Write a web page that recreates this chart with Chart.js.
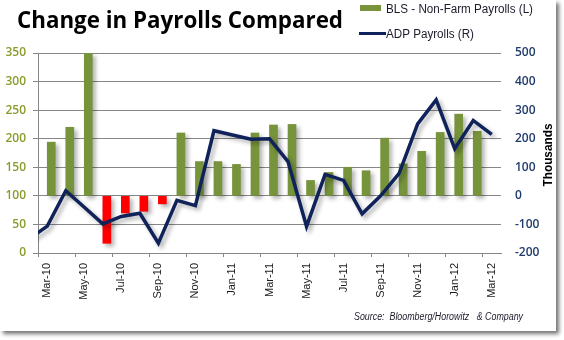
<!DOCTYPE html>
<html>
<head>
<meta charset="utf-8">
<script src="https://cdn.jsdelivr.net/npm/chart.js@4/dist/chart.umd.min.js"></script>
<style>
  body { margin: 0; background: #fff; }
  .frame { position: absolute; left: 0; top: 0; width: 556px; height: 331px; background: #fff; box-shadow: 3px 3px 4px rgba(0, 0, 0, 0.55); }
</style>
</head>
<body>
<div class="frame"><canvas id="chart" width="556" height="331"></canvas></div>
<script>
// data
const months = ['Mar-10', 'Apr-10', 'May-10', 'Jun-10', 'Jul-10', 'Aug-10', 'Sep-10', 'Oct-10', 'Nov-10', 'Dec-10',
  'Jan-11', 'Feb-11', 'Mar-11', 'Apr-11', 'May-11', 'Jun-11', 'Jul-11', 'Aug-11', 'Sep-11', 'Oct-11', 'Nov-11', 'Dec-11',
  'Jan-12', 'Feb-12', 'Mar-12']
const blsValues = [194, 220, 350, 17, 70, 73, 86, 210, 160, 160, 155, 210, 224, 225, 127, 141, 150, 144, 201, 156, 178, 211, 243, 213, null]
const adpValues = [-106, 18, -40, -98, -72, -61, -166, -16, -34, 228, 213, 198, 200, 120, -107, 75, 54, -63, 0, 79, 252, 336, 165, 264, 215]
const adpFeb10 = -151 // month before the first label, only its tail shows at the left edge
const blsBase = 100
const leftTicks = { min: 0, max: 350, step: 50 }
const rightTicks = { min: -200, max: 500, step: 100 }

const titleText = 'Change in Payrolls Compared'
const blsLabel = 'BLS - Non-Farm Payrolls (L)'
const adpLabel = 'ADP Payrolls (R)'
const rightTitle = 'Thousands'
const sourceText = 'Source:  Bloomberg/Horowitz   & Company'

const green = '#77933c'
const red = '#ff0000'
const navy = '#0f2259'
const gridGrey = '#868686'

const adpPoints = [{ x: -1, y: adpFeb10 }].concat(adpValues.map((v, i) => ({ x: i, y: v })))

// excel style drop shadow under bars and line
const shadow = {
  id: 'shadow',
  beforeDatasetsDraw(c) {
    c.ctx.save()
    c.ctx.shadowColor = 'rgba(0,0,0,0.3)'
    c.ctx.shadowBlur = 4
    c.ctx.shadowOffsetX = 3
    c.ctx.shadowOffsetY = 3
  },
  afterDatasetsDraw(c) {
    c.ctx.restore()
  }
}

// title, legend, axis title and source
const texts = {
  id: 'texts',
  afterDraw(c) {
    const ctx = c.ctx
    ctx.save()
    ctx.textBaseline = 'alphabetic'
    ctx.textAlign = 'left'

    ctx.fillStyle = '#000'
    ctx.font = 'bold 24px "Open Sans"'
    ctx.fillText(titleText, 17, 28, 326)

    ctx.fillStyle = green
    ctx.fillRect(360, 5, 21, 6)
    ctx.strokeStyle = navy
    ctx.lineWidth = 3
    ctx.beginPath()
    ctx.moveTo(359, 33.5)
    ctx.lineTo(386, 33.5)
    ctx.stroke()

    ctx.fillStyle = '#1b1b2b'
    ctx.font = '12px "Liberation Sans"'
    ctx.fillText(blsLabel, 386, 13, 147)
    ctx.fillText(adpLabel, 386, 38, 88)

    ctx.font = 'italic 10px "Liberation Sans"'
    ctx.fillText(sourceText, 354, 320, 169)

    ctx.fillStyle = '#000'
    ctx.font = 'bold 13px "Liberation Sans"'
    ctx.translate(552, 155)
    ctx.rotate(-Math.PI / 2)
    ctx.textAlign = 'center'
    ctx.fillText(rightTitle, 0, 0, 63)
    ctx.restore()
  }
}

new Chart(document.querySelector('#chart'), {
  data: {
    labels: months,
    datasets: [
      {
        type: 'line',
        label: adpLabel,
        data: adpPoints,
        xAxisID: 'x2',
        yAxisID: 'y2',
        borderColor: navy,
        borderWidth: 3.5,
        pointRadius: 0,
        tension: 0,
        order: 0
      },
      {
        type: 'bar',
        label: blsLabel,
        data: blsValues,
        base: blsBase,
        xAxisID: 'x',
        yAxisID: 'y',
        backgroundColor: ctx => (ctx.raw < blsBase ? red : green),
        barThickness: 8,
        order: 1
      }
    ]
  },
  options: {
    responsive: false,
    animation: false,
    layout: { padding: { top: 53, left: 0, right: 0, bottom: 0 } },
    plugins: { legend: { display: false }, tooltip: { enabled: false } },
    scales: {
      x: {
        type: 'category',
        offset: true,
        grid: {
          offset: true,
          drawOnChartArea: false,
          tickLength: 4,
          color: ctx => (ctx.index % 2 === 0 ? gridGrey : 'rgba(0,0,0,0)')
        },
        border: { color: gridGrey },
        ticks: {
          autoSkip: false,
          minRotation: 90,
          maxRotation: 90,
          padding: 6,
          color: '#1a1a1a',
          font: { family: '"Liberation Sans"', size: 11 },
          callback: (v, i) => (i % 2 === 0 ? months[i] : '')
        },
        afterFit: s => { s.height = 78 }
      },
      x2: {
        type: 'linear',
        display: false,
        min: -0.5,
        max: months.length - 0.5
      },
      y: {
        position: 'left',
        min: leftTicks.min,
        max: leftTicks.max,
        ticks: {
          stepSize: leftTicks.step,
          padding: 7,
          color: '#8c9a2c',
          font: { family: '"Open Sans"', size: 12, weight: '600' }
        },
        grid: { color: gridGrey, tickLength: 5 },
        border: { color: gridGrey },
        afterFit: s => { s.width = 38 }
      },
      y2: {
        position: 'right',
        min: rightTicks.min,
        max: rightTicks.max,
        ticks: {
          stepSize: rightTicks.step,
          padding: 14,
          color: '#1f3a6b',
          font: { family: '"Open Sans"', size: 12, weight: '600' }
        },
        grid: { display: false, drawTicks: false },
        border: { display: false },
        afterFit: s => { s.width = 55 }
      }
    }
  },
  plugins: [shadow, texts]
})
</script>
</body>
</html>
